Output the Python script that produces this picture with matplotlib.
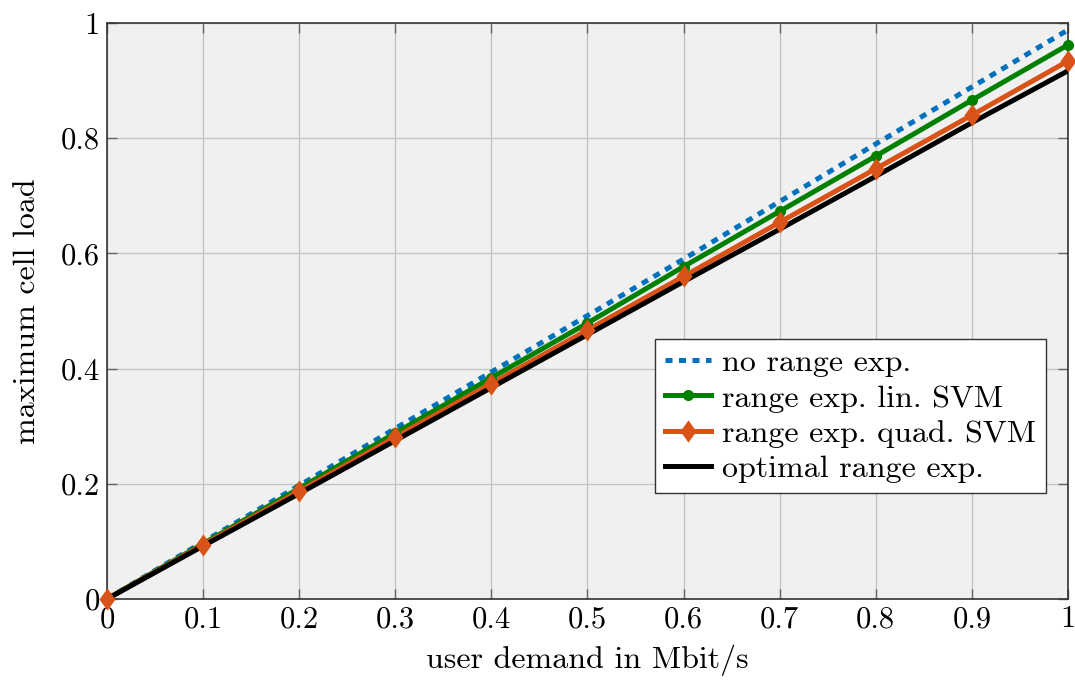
import matplotlib
matplotlib.use("Agg")
import matplotlib.pyplot as plt
from matplotlib.lines import Line2D
from matplotlib.path import Path

plt.rcParams["font.family"] = ["cmr10", "DejaVu Serif"]
plt.rcParams["mathtext.fontset"] = "cm"
plt.rcParams["axes.formatter.use_mathtext"] = True

demand = [0.0, 0.1, 0.2, 0.3, 0.4, 0.5, 0.6, 0.7, 0.8, 0.9, 1.0]
no_range = [0.0, 0.099, 0.197, 0.296, 0.394, 0.492, 0.590, 0.690, 0.790, 0.889, 0.988]
lin_svm = [0.0, 0.096, 0.192, 0.288, 0.384, 0.479, 0.577, 0.673, 0.769, 0.866, 0.962]
quad_svm = [0.0, 0.094, 0.187, 0.281, 0.374, 0.467, 0.560, 0.654, 0.747, 0.840, 0.934]
optimal = [0.0, 0.092, 0.183, 0.275, 0.367, 0.459, 0.551, 0.642, 0.734, 0.827, 0.917]

xticks = [0, 0.1, 0.2, 0.3, 0.4, 0.5, 0.6, 0.7, 0.8, 0.9, 1]
xticklabels = ["0", "0.1", "0.2", "0.3", "0.4", "0.5", "0.6", "0.7", "0.8", "0.9", "1"]
yticks = [0, 0.2, 0.4, 0.6, 0.8, 1]
yticklabels = ["0", "0.2", "0.4", "0.6", "0.8", "1"]

# slightly tall diamond marker
diamond = Path([(0, 1), (0.72, 0), (0, -1), (-0.72, 0), (0, 1)],
               [Path.MOVETO, Path.LINETO, Path.LINETO, Path.LINETO, Path.CLOSEPOLY])

LW = 3.6
DASH = (0, (1.4, 1.3))
FS = 23
BLUE, GREEN, ORANGE = "#0072BD", "#008000", "#D95319"

fig = plt.figure(figsize=(10.75, 6.84), dpi=100)
ax = fig.add_axes([0.0995, 0.1243, 0.894, 0.8421])
ax.set_facecolor("#f0f0f0")

# lines first (later series on top), markers above all lines
ax.plot(demand, no_range, color=BLUE, lw=LW, ls=DASH, zorder=3)
ax.plot(demand, lin_svm, color=GREEN, lw=LW, zorder=4)
ax.plot(demand, quad_svm, color=ORANGE, lw=LW, zorder=5)
ax.plot(demand, optimal, color="black", lw=LW, zorder=6)
ax.plot(demand, lin_svm, ls="none", color=GREEN, marker="o", ms=8,
        markeredgewidth=0, zorder=7, clip_on=False)
ax.plot(demand, quad_svm, ls="none", color=ORANGE, marker=diamond, ms=16,
        markeredgewidth=0, zorder=8, clip_on=False)

ax.set_xlim(0, 1)
ax.set_ylim(0, 1)
ax.set_xticks(xticks)
ax.set_xticklabels(xticklabels)
ax.set_yticks(yticks)
ax.set_yticklabels(yticklabels)
ax.grid(True, color="#c4c4c4", lw=1.0)
ax.set_axisbelow(True)
ax.tick_params(direction="in", top=True, right=True, length=7, width=1,
               color="#666666", labelsize=22, pad=5)
for s in ax.spines.values():
    s.set_color("#333333")
    s.set_linewidth(1.2)

ax.set_xlabel("user demand in Mbit/s", fontsize=FS, labelpad=8)
ax.set_ylabel("maximum cell load", fontsize=FS, labelpad=14)

handles = [
    Line2D([], [], color=BLUE, lw=LW, ls=DASH),
    Line2D([], [], color=GREEN, lw=LW, marker="o", ms=8, markeredgewidth=0),
    Line2D([], [], color=ORANGE, lw=LW, marker=diamond, ms=16, markeredgewidth=0),
    Line2D([], [], color="black", lw=LW),
]
labels = ["no range exp.", "range exp. lin. SVM", "range exp. quad. SVM",
          "optimal range exp."]
leg = ax.legend(handles, labels, loc="lower left", bbox_to_anchor=(0.5705, 0.184),
                fontsize=FS, frameon=True, fancybox=False, framealpha=1,
                edgecolor="#333333", handlelength=1.45, handletextpad=0.35,
                borderpad=0.3, labelspacing=0.22, borderaxespad=0)
leg.get_frame().set_linewidth(1.0)
leg.set_zorder(10)

fig.savefig("out.png", dpi=100)
